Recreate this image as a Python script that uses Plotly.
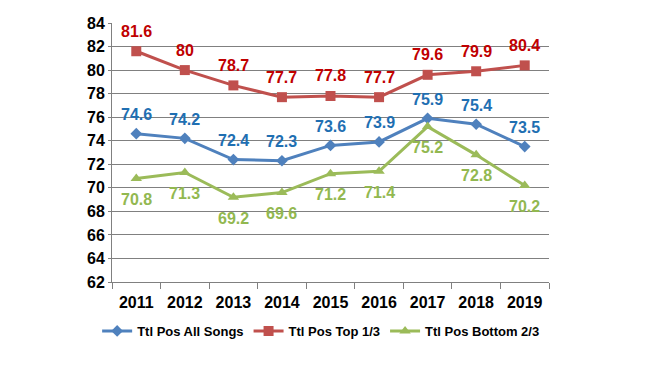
import plotly.graph_objects as go

years = ["2011", "2012", "2013", "2014", "2015", "2016", "2017", "2018", "2019"]
all_songs = [74.6, 74.2, 72.4, 72.3, 73.6, 73.9, 75.9, 75.4, 73.5]
top_third = [81.6, 80.0, 78.7, 77.7, 77.8, 77.7, 79.6, 79.9, 80.4]
bottom_two_thirds = [70.8, 71.3, 69.2, 69.6, 71.2, 71.4, 75.2, 72.8, 70.2]

series = [
    ("Ttl Pos All Songs", all_songs, "#4F81BD", "#1F6FB2", "diamond", 9, 19),
    ("Ttl Pos Top 1/3", top_third, "#C0504D", "#C00000", "square", 10, 20),
    ("Ttl Pos Bottom 2/3", bottom_two_thirds, "#9BBB59", "#92B850", "triangle-up", 10, -21),
]

FONT = "Arial, Liberation Sans, sans-serif"

fig = go.Figure()
annotations = []
for name, vals, col, tcol, sym, msize, shift in series:
    fig.add_trace(go.Scatter(
        x=years, y=vals, name=name, mode="lines+markers",
        line=dict(color=col, width=3),
        marker=dict(symbol=sym, size=msize, color=col),
    ))
    for i, v in enumerate(vals):
        annotations.append(dict(
            x=i, y=v, xref="x", yref="y", text=f"<b>{v:g}</b>", showarrow=False, yshift=shift,
            font=dict(family=FONT, size=16, color=tcol),
        ))

fig.update_layout(
    width=646, height=360,
    margin=dict(l=104, r=105, t=15, b=86, autoexpand=False),
    paper_bgcolor="white", plot_bgcolor="white",
    annotations=annotations,
    showlegend=True,
    legend=dict(orientation="h", x=-0.034, xref="paper", xanchor="left", y=-0.131, yanchor="top",
                font=dict(family=FONT, size=13, color="black", weight="bold"),
                itemwidth=30, traceorder="normal"),
    xaxis=dict(
        type="category", tickson="boundaries", ticks="outside", ticklen=6, tickcolor="#808080",
        showline=True, linecolor="#808080", linewidth=1, showgrid=False, automargin=False,
        tickfont=dict(family=FONT, size=16, color="black", weight="bold"),
        ticklabelstandoff=6,
        range=[-0.5, 8.5],
    ),
    yaxis=dict(
        range=[62, 84], dtick=2, tick0=62, showgrid=True, gridcolor="#808080", gridwidth=1,
        showline=True, linecolor="#808080", linewidth=1, ticks="outside", ticklen=3, tickcolor="#808080",
        tickfont=dict(family=FONT, size=16, color="black", weight="bold"), automargin=False,
        zeroline=False,
    ),
)

fig.write_html("out.html")
